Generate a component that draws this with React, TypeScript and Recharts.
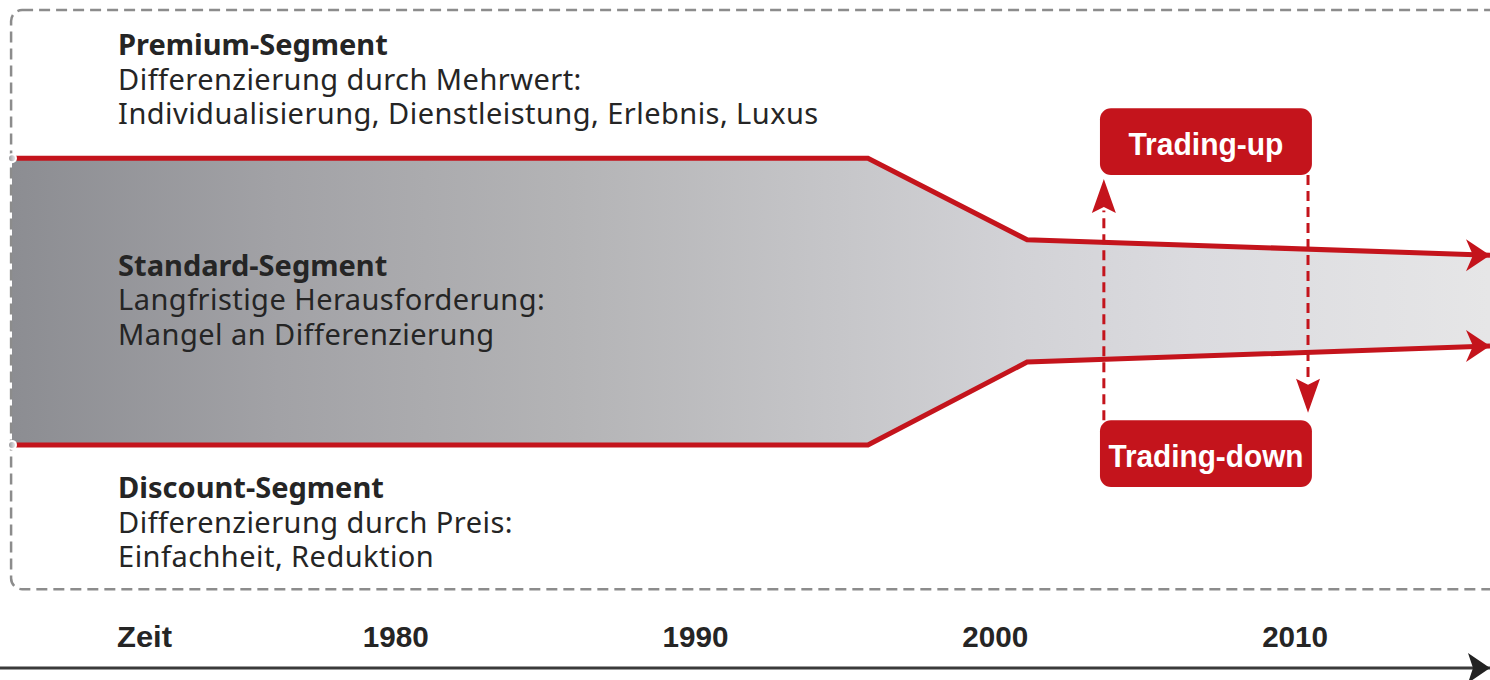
import React from 'react';
import {
  ComposedChart,
  Area,
  Line,
  XAxis,
  YAxis,
  ReferenceArea,
  ReferenceLine,
  ReferenceDot,
} from 'recharts';

// ---- data -------------------------------------------------------------
// time (years) at which the band boundaries change
const years = [1967.2, 1995.75, 2001.06, 2016.5];
// relative position of the upper (premium) and lower (discount) boundary of the standard segment (0–100)
const premiumBoundary = [76.3, 76.3, 64.1, 61.8];
const discountBoundary = [33.4, 33.4, 45.8, 48.2];

const tickYears = [1980, 1990, 2000, 2010];
const axisTitle = 'Zeit';

const premiumText = [
  'Premium-Segment',
  'Differenzierung durch Mehrwert:',
  'Individualisierung, Dienstleistung, Erlebnis, Luxus',
];
const standardText = [
  'Standard-Segment',
  'Langfristige Herausforderung:',
  'Mangel an Differenzierung',
];
const discountText = [
  'Discount-Segment',
  'Differenzierung durch Preis:',
  'Einfachheit, Reduktion',
];
const tradingLabels = ['Trading-up', 'Trading-down'];

const data = years.map((year, i) => ({
  year,
  premium: premiumBoundary[i],
  discount: discountBoundary[i],
  band: [discountBoundary[i], premiumBoundary[i]],
}));

// ---- styling ----------------------------------------------------------
const RED = '#c4141c';
const TEXT = '#252525';
const FONT = '"Noto Sans", "Open Sans", sans-serif';
const COND = '"Liberation Sans Narrow", "Liberation Sans", Arial, sans-serif';

const TextBlock = (props: any) => {
  const { cx, cy, lines } = props;
  return (
    <g>
      {lines.map((l: string, i: number) => (
        <text
          key={i}
          x={cx}
          y={cy + i * 34.5}
          fontFamily={FONT}
          fontSize={29}
          fill={TEXT}
          fontWeight={i === 0 ? 700 : 400}
          letterSpacing={i === 0 ? 0 : 0.45}
        >
          {l}
        </text>
      ))}
    </g>
  );
};

const TimeTick = (props: any) => {
  const { x, y, payload } = props;
  const label = String(payload.value);
  return (
    <text
      x={x}
      y={y - 21}
      textAnchor="middle"
      fontFamily={COND}
      fontWeight={700}
      fontSize={30}
      fill={TEXT}
      textLength={66}
      lengthAdjust="spacingAndGlyphs"
    >
      {label}
    </text>
  );
};

const AxisTitle = (props: any) => {
  const vb = props.viewBox || { x: 0, y: 668 };
  return (
    <text
      x={vb.x + 117}
      y={vb.y - 21}
      fontFamily={COND}
      fontWeight={700}
      fontSize={30}
      fill={TEXT}
      textLength={55}
      lengthAdjust="spacingAndGlyphs"
    >
      {axisTitle}
    </text>
  );
};

const BandArrow = (props: any) => {
  const { cx, cy, index } = props;
  if (index !== years.length - 1 || cx == null) return <g key={`d${index}`} />;
  return (
    <path
      key={`d${index}`}
      d={`M${cx},${cy} L${cx - 24},${cy - 16} L${cx - 17},${cy} L${cx - 24},${cy + 16} Z`}
      fill={RED}
    />
  );
};

const AxisArrow = (props: any) => {
  const { cx, cy } = props;
  return <path d={`M${cx},${cy} L${cx - 22},${cy - 15} L${cx - 17},${cy} L${cx - 22},${cy + 15} Z`} fill="#222" />;
};

const UpHead = (props: any) => {
  const { cx, cy } = props;
  return <path d={`M${cx},${cy} L${cx + 12},${cy + 34} L${cx},${cy + 28} L${cx - 12},${cy + 34} Z`} fill={RED} />;
};
const DownHead = (props: any) => {
  const { cx, cy } = props;
  return <path d={`M${cx},${cy} L${cx + 12},${cy - 34} L${cx},${cy - 28} L${cx - 12},${cy - 34} Z`} fill={RED} />;
};

const TradingBox = (label: string, textLen: number) => (props: any) => {
  const { x, y, width, height } = props;
  return (
    <g>
      <rect x={x} y={y} width={width} height={height} rx={11} ry={11} fill={RED} />
      <text
        x={x + width / 2}
        y={y + height / 2 + 13}
        textAnchor="middle"
        fontFamily={COND}
        fontWeight={700}
        fontSize={32}
        fill="#ffffff"
        textLength={textLen}
        lengthAdjust="spacingAndGlyphs"
      >
        {label}
      </text>
    </g>
  );
};

const DashedFrame = (props: any) => {
  const { x, y, width, height } = props;
  return (
    <rect
      x={x}
      y={y}
      width={width}
      height={height}
      rx={11}
      ry={11}
      fill="none"
      stroke="#8c8c8c"
      strokeWidth={2.5}
      strokeDasharray="11 6"
    />
  );
};

export default function App() {
  return (
    <div style={{ width: 1490, height: 680 }}>
      <style>{`body{margin:0}`}</style>
      <ComposedChart width={1490} height={680} data={data} margin={{ top: 0, right: 0, bottom: 0, left: 0 }}>
        <defs>
          <linearGradient id="bandGrad" x1="0" y1="0" x2="1" y2="0">
            <stop offset="0" stopColor="#8c8d92" />
            <stop offset="0.18" stopColor="#a2a2a6" />
            <stop offset="0.38" stopColor="#b4b4b6" />
            <stop offset="0.56" stopColor="#c6c6c9" />
            <stop offset="0.68" stopColor="#d2d2d6" />
            <stop offset="0.8" stopColor="#dbdbdf" />
            <stop offset="1" stopColor="#e6e6e7" />
          </linearGradient>
        </defs>
        <XAxis
          dataKey="year"
          type="number"
          domain={[1966.8, 2016.5]}
          allowDataOverflow
          ticks={tickYears}
          interval={0}
          height={12}
          tickSize={0}
          tickMargin={0}
          tickLine={false}
          axisLine={{ stroke: '#3a3a3a', strokeWidth: 3 }}
          tick={<TimeTick />}
          label={{ value: axisTitle, content: <AxisTitle /> }}
        />
        <YAxis type="number" domain={[0, 100]} hide allowDataOverflow />

        <Area
          dataKey="band"
          type="linear"
          stroke="none"
          fill="url(#bandGrad)"
          fillOpacity={1}
          isAnimationActive={false}
        />
        <Line
          dataKey="premium"
          type="linear"
          stroke={RED}
          strokeWidth={5}
          dot={BandArrow}
          activeDot={false}
          isAnimationActive={false}
        />
        <Line
          dataKey="discount"
          type="linear"
          stroke={RED}
          strokeWidth={5}
          dot={BandArrow}
          activeDot={false}
          isAnimationActive={false}
        />

        <ReferenceArea
          x1={1967.17}
          x2={2018}
          y1={11.8}
          y2={98.5}
          ifOverflow="visible"
          shape={DashedFrame}
        />

        <ReferenceDot x={1970.74} y={91.7} r={0} ifOverflow="visible" shape={(p: any) => <TextBlock {...p} lines={premiumText} />} />
        <ReferenceDot x={1970.74} y={58.7} r={0} ifOverflow="visible" shape={(p: any) => <TextBlock {...p} lines={standardText} />} />
        <ReferenceDot x={1970.74} y={25.4} r={0} ifOverflow="visible" shape={(p: any) => <TextBlock {...p} lines={discountText} />} />

        <ReferenceLine
          segment={[{ x: 2003.62, y: 37.1 }, { x: 2003.62, y: 68.5 }]}
          stroke={RED}
          strokeWidth={3}
          strokeDasharray="10 6"
          ifOverflow="visible"
        />
        <ReferenceDot x={2003.62} y={73.2} r={0} ifOverflow="visible" shape={UpHead} />
        <ReferenceLine
          segment={[{ x: 2010.43, y: 73.8 }, { x: 2010.43, y: 43.0 }]}
          stroke={RED}
          strokeWidth={3}
          strokeDasharray="10 6"
          ifOverflow="visible"
        />
        <ReferenceDot x={2010.43} y={38.2} r={0} ifOverflow="visible" shape={DownHead} />

        <ReferenceArea
          x1={2003.49}
          x2={2010.56}
          y1={73.8}
          y2={83.8}
          ifOverflow="visible"
          shape={TradingBox(tradingLabels[0], 155)}
        />
        <ReferenceArea
          x1={2003.49}
          x2={2010.56}
          y1={27.1}
          y2={37.1}
          ifOverflow="visible"
          shape={TradingBox(tradingLabels[1], 195)}
        />

        <ReferenceDot x={2016.5} y={0} r={0} ifOverflow="visible" shape={AxisArrow} />
      </ComposedChart>
    </div>
  );
}
